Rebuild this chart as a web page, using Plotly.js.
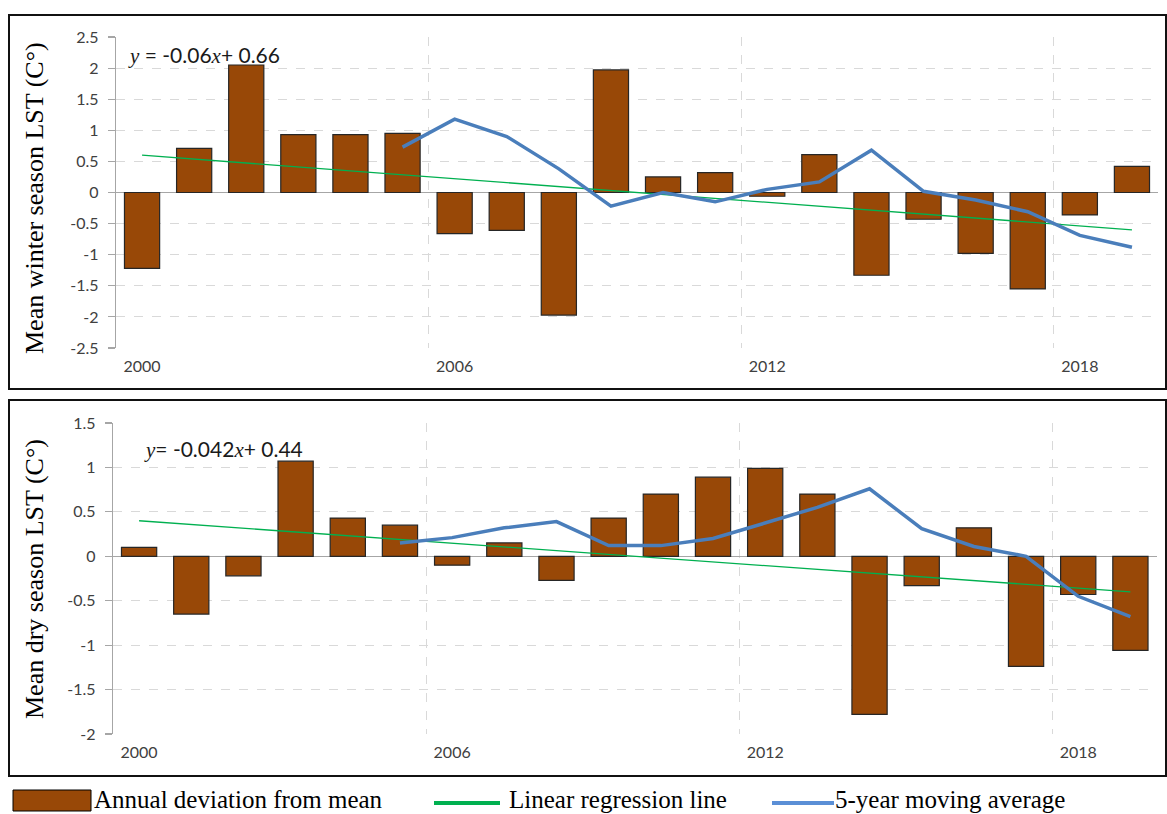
<!DOCTYPE html>
<html>
<head>
<meta charset="utf-8">
<script src="https://cdn.plot.ly/plotly-3.0.1.min.js"></script>
<style>html,body{margin:0;padding:0;background:#fff;}#chart{width:1167px;height:814px;}</style>
</head>
<body>
<div id="chart"></div>
<script>
// ---------------- data ----------------
const years = [2000, 2001, 2002, 2003, 2004, 2005, 2006, 2007, 2008, 2009,
               2010, 2011, 2012, 2013, 2014, 2015, 2016, 2017, 2018, 2019];
const maYears = [2005, 2006, 2007, 2008, 2009, 2010, 2011, 2012, 2013, 2014,
                 2015, 2016, 2017, 2018, 2019];
const regYears = [2000, 2019];

const winterDev = [-1.22, 0.71, 2.05, 0.93, 0.93, 0.95, -0.66, -0.61, -1.97, 1.97,
                   0.25, 0.32, -0.06, 0.61, -1.33, -0.43, -0.98, -1.55, -0.36, 0.42];
const winterMA = [0.73, 1.18, 0.90, 0.38, -0.22, 0.00, -0.15, 0.05, 0.17, 0.68,
                  0.02, -0.12, -0.31, -0.69, -0.88];
const winterReg = [0.60, -0.60];

const dryDev = [0.10, -0.65, -0.22, 1.07, 0.43, 0.35, -0.10, 0.15, -0.27, 0.43,
                0.70, 0.89, 0.99, 0.70, -1.78, -0.33, 0.32, -1.24, -0.43, -1.06];
const dryMA = [0.15, 0.21, 0.32, 0.39, 0.12, 0.12, 0.20, 0.38, 0.55, 0.76,
               0.31, 0.11, 0.00, -0.45, -0.68];
const dryReg = [0.40, -0.40];

const xTickVals = [2000, 2006, 2012, 2018];
const xTickText = ['2000', '2006', '2012', '2018'];
const xGridVals = [1999.5, 2005.5, 2011.5, 2017.5];

const winterTickVals = [2.5, 2, 1.5, 1, 0.5, 0, -0.5, -1, -1.5, -2, -2.5];
const winterTickText = ['2.5', '2', '1.5', '1', '0.5', '0', '-0.5', '-1', '-1.5', '-2', '-2.5'];
const dryTickVals = [1.5, 1, 0.5, 0, -0.5, -1, -1.5, -2];
const dryTickText = ['1.5', '1', '0.5', '0', '-0.5', '-1', '-1.5', '-2'];

const legendLabels = ['Annual deviation from mean', 'Linear regression line', '5-year moving average'];
const titleWinter = 'Mean winter season LST (C°)';
const titleDry = 'Mean dry season LST (C°)';

// ---------------- styles ----------------
const W = 1167, H = 814;
const px = v => v / W;
const py = v => 1 - v / H;
const BAR = '#984807', GREEN = '#00b050', BLUE = '#4a7ebb';
const GRID = '#d9d9d9', AXIS = '#a6a6a6';
const tickFont = {family: 'Lato, "Open Sans", sans-serif', size: 16, color: '#404040'};

function barTrace(y, xa, ya) {
  return {type: 'bar', x: years, y: y, xaxis: xa, yaxis: ya,
          marker: {color: BAR, line: {color: '#262626', width: 1.2}}, hoverinfo: 'x+y'};
}
function lineTrace(x, y, xa, ya, color, width) {
  return {type: 'scatter', mode: 'lines', x: x, y: y, xaxis: xa, yaxis: ya,
          line: {color: color, width: width}, hoverinfo: 'x+y'};
}

const traces = [
  barTrace(winterDev, 'x', 'y'),
  lineTrace(regYears, winterReg, 'x', 'y', GREEN, 1.3),
  lineTrace(maYears, winterMA, 'x', 'y', BLUE, 3.5),
  barTrace(dryDev, 'x2', 'y2'),
  lineTrace(regYears, dryReg, 'x2', 'y2', GREEN, 1.3),
  lineTrace(maYears, dryMA, 'x2', 'y2', BLUE, 3.5)
];

function xAxis(domain, anchor) {
  return {
    domain: domain, anchor: anchor, range: [1999.5, 2019.5],
    tickmode: 'array', tickvals: xTickVals, ticktext: xTickText,
    showgrid: false, zeroline: false, showline: false, ticks: '',
    ticklabelstandoff: 7, tickfont: tickFont, automargin: false, fixedrange: true,
    minor: {tickmode: 'array', tickvals: xGridVals, showgrid: true,
            gridcolor: GRID, griddash: 'dash', gridwidth: 1, ticks: ''}
  };
}
function yAxis(domain, anchor, range, vals, text) {
  return {
    domain: domain, anchor: anchor, range: range,
    tickmode: 'array', tickvals: vals, ticktext: text,
    showgrid: true, gridcolor: GRID, griddash: 'dash', gridwidth: 1,
    zeroline: true, zerolinecolor: AXIS, zerolinewidth: 1.3,
    showline: true, linecolor: AXIS, linewidth: 1.3,
    ticks: 'outside', ticklen: 7, tickcolor: AXIS, tickwidth: 1.2,
    ticklabelstandoff: 6, tickfont: tickFont, automargin: false, fixedrange: true
  };
}

const serif = '"Liberation Serif", "Times New Roman", serif';
const eqFont = {family: 'Lato, "Open Sans", sans-serif', size: 21, color: '#1a1a1a'};
const mathVar = s => '<span style="font-family:\'Liberation Serif\'"><i>' + s + '</i></span>';

const annotations = [
  {xref: 'paper', yref: 'paper', x: px(35), y: py(198), text: titleWinter, textangle: -90,
   showarrow: false, xanchor: 'center', yanchor: 'middle', font: {family: serif, size: 26, color: '#000'}},
  {xref: 'paper', yref: 'paper', x: px(34), y: py(579), text: titleDry, textangle: -90,
   showarrow: false, xanchor: 'center', yanchor: 'middle', font: {family: serif, size: 26, color: '#000'}},
  {xref: 'paper', yref: 'paper', x: px(126), y: py(55), xanchor: 'left', yanchor: 'middle', showarrow: false,
   text: mathVar('y') + ' = -0.06' + mathVar('x') + '+ 0.66', font: eqFont},
  {xref: 'paper', yref: 'paper', x: px(142), y: py(449), xanchor: 'left', yanchor: 'middle', showarrow: false,
   text: mathVar('y') + '= -0.042' + mathVar('x') + '+ 0.44', font: eqFont},
  // legend texts
  {xref: 'paper', yref: 'paper', x: px(92), y: py(799), xanchor: 'left', yanchor: 'middle', showarrow: false,
   text: legendLabels[0], font: {family: serif, size: 25, color: '#000'}},
  {xref: 'paper', yref: 'paper', x: px(507), y: py(799), xanchor: 'left', yanchor: 'middle', showarrow: false,
   text: legendLabels[1], font: {family: serif, size: 25, color: '#000'}},
  {xref: 'paper', yref: 'paper', x: px(833), y: py(799), xanchor: 'left', yanchor: 'middle', showarrow: false,
   text: legendLabels[2], font: {family: serif, size: 25, color: '#000'}}
];

const shapes = [
  // panel frames
  {type: 'rect', xref: 'paper', yref: 'paper', x0: px(9), x1: px(1166), y0: py(389), y1: py(15),
   line: {color: '#111', width: 2}},
  {type: 'rect', xref: 'paper', yref: 'paper', x0: px(9), x1: px(1166), y0: py(776), y1: py(400),
   line: {color: '#111', width: 2}},
  // legend swatches
  {type: 'rect', xref: 'paper', yref: 'paper', x0: px(13), x1: px(91), y0: py(811), y1: py(790),
   fillcolor: BAR, line: {color: '#000', width: 1}},
  {type: 'line', xref: 'paper', yref: 'paper', x0: px(434), x1: px(500), y0: py(803), y1: py(803),
   line: {color: GREEN, width: 4}},
  {type: 'line', xref: 'paper', yref: 'paper', x0: px(772), x1: px(834), y0: py(803), y1: py(803),
   line: {color: '#5b8fd6', width: 4}}
];

const layout = {
  width: W, height: H,
  margin: {l: 0, r: 0, t: 0, b: 0, pad: 0},
  paper_bgcolor: '#ffffff', plot_bgcolor: '#ffffff',
  showlegend: false, bargap: 0.325,
  font: {family: 'Lato, sans-serif'},
  xaxis: xAxis([px(116), px(1158)], 'y'),
  yaxis: yAxis([py(348), py(37)], 'x', [-2.5, 2.5], winterTickVals, winterTickText),
  xaxis2: xAxis([px(113), px(1156.5)], 'y2'),
  yaxis2: yAxis([py(734), py(423)], 'x2', [-2, 1.5], dryTickVals, dryTickText),
  annotations: annotations,
  shapes: shapes
};

Plotly.newPlot('chart', traces, layout, {staticPlot: true, displayModeBar: false});
</script>
</body>
</html>
